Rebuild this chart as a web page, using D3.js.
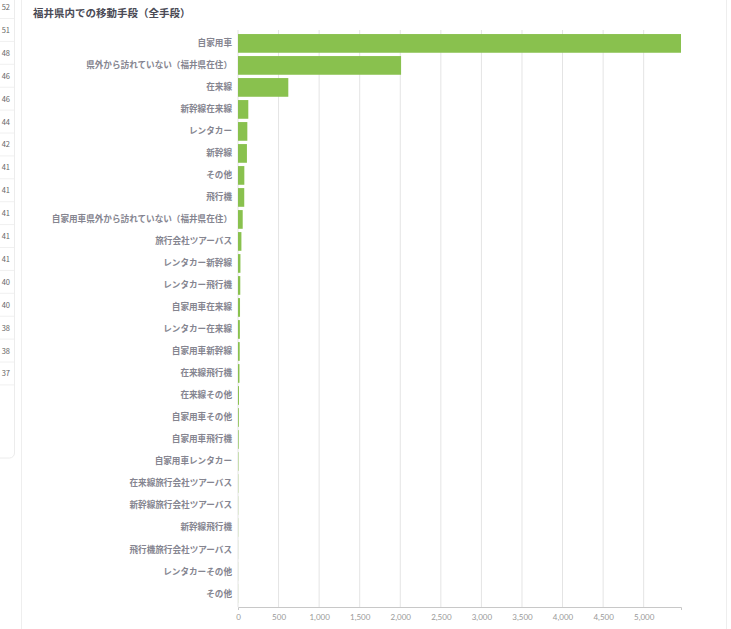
<!DOCTYPE html>
<html>
<head>
<meta charset="utf-8">
<script src="https://cdn.jsdelivr.net/npm/d3@7/dist/d3.min.js"></script>
<style>
  html, body { margin: 0; padding: 0; background: #ffffff; }
  svg { display: block; font-family: "Noto Sans CJK JP", "Noto Sans", sans-serif; }
</style>
</head>
<body>
<svg id="chart" width="731" height="629"></svg>
<script>
const title = "福井県内での移動手段（全手段）";
const categories = [
  "自家用車",
  "県外から訪れていない（福井県在住）",
  "在来線",
  "新幹線在来線",
  "レンタカー",
  "新幹線",
  "その他",
  "飛行機",
  "自家用車県外から訪れていない（福井県在住）",
  "旅行会社ツアーバス",
  "レンタカー新幹線",
  "レンタカー飛行機",
  "自家用車在来線",
  "レンタカー在来線",
  "自家用車新幹線",
  "在来線飛行機",
  "在来線その他",
  "自家用車その他",
  "自家用車飛行機",
  "自家用車レンタカー",
  "在来線旅行会社ツアーバス",
  "新幹線旅行会社ツアーバス",
  "新幹線飛行機",
  "飛行機旅行会社ツアーバス",
  "レンタカーその他",
  "その他"
];
const values = [5460, 2010, 620, 127, 115, 110, 78, 77, 58, 42, 30, 28, 25, 23, 21, 18, 12, 10, 8, 5, 3, 2, 2, 1, 1, 1];
const xTicks = [0, 500, 1000, 1500, 2000, 2500, 3000, 3500, 4000, 4500, 5000];
const sideValues = [52, 51, 48, 46, 46, 44, 42, 41, 41, 41, 41, 41, 40, 40, 38, 38, 37];

const svg = d3.select("#chart");

// left partial panel (neighbouring table)
const side = svg.append("g");
side.append("rect").attr("x", -10).attr("y", -10).attr("width", 24.5).attr("height", 468)
  .attr("rx", 5).attr("fill", "#fff").attr("stroke", "#ececec");
const sy = d3.scaleLinear().domain([0, 1]).range([7, 29.9]);
side.selectAll("text").data(sideValues).join("text")
  .attr("x", 10).attr("y", (d, i) => sy(i) + 3)
  .attr("text-anchor", "end").attr("font-size", 7.5).attr("fill", "#666")
  .text(d => d);
side.selectAll("line").data(sideValues).join("line")
  .attr("x1", 0).attr("x2", 14)
  .attr("y1", (d, i) => sy(i) + 11.5).attr("y2", (d, i) => sy(i) + 11.5)
  .attr("stroke", "#f0f0f0");

// main card
svg.append("rect").attr("x", 21.5).attr("y", -5).attr("width", 705).attr("height", 640)
  .attr("rx", 4).attr("fill", "#fff").attr("stroke", "#eeeeee");

svg.append("text").attr("x", 33).attr("y", 17)
  .attr("font-size", 10.5).attr("font-weight", "bold").attr("fill", "#4a4a55")
  .text(title);

const keys = categories.map((c, i) => i + ":" + c);
const x = d3.scaleLinear().domain([0, 5460]).range([238, 681]);
const y = d3.scaleBand().domain(keys).range([32.4, 604.5]).paddingInner(0.15).paddingOuter(0.075);

// gridlines
svg.append("g").selectAll("line").data(xTicks).join("line")
  .attr("x1", d => x(d)).attr("x2", d => x(d))
  .attr("y1", 30).attr("y2", 607)
  .attr("stroke", "#e4e4e4").attr("stroke-width", 1);

// bars
svg.append("g").selectAll("rect").data(values).join("rect")
  .attr("x", x(0))
  .attr("y", (d, i) => y(keys[i]))
  .attr("width", d => x(d) - x(0))
  .attr("height", y.bandwidth())
  .attr("fill", "#89c14e");

// category labels
svg.append("g").selectAll("text").data(categories).join("text")
  .attr("x", 232)
  .attr("y", (d, i) => y(keys[i]) + y.bandwidth() / 2)
  .attr("dy", "0.35em")
  .attr("text-anchor", "end")
  .attr("font-size", 8.6).attr("font-weight", "bold").attr("fill", "#858590")
  .text(d => d);

// x axis
const axis = d3.axisBottom(x).tickValues(xTicks).tickSize(0).tickSizeOuter(3).tickPadding(7)
  .tickFormat(d3.format(","));
const ag = svg.append("g").attr("transform", "translate(0,607)").call(axis);
ag.select(".domain").attr("stroke", "#c8c8c8");
ag.selectAll("text").attr("font-size", 8).attr("fill", "#999")
  .attr("font-family", "Lato, 'Noto Sans', sans-serif");
</script>
</body>
</html>
